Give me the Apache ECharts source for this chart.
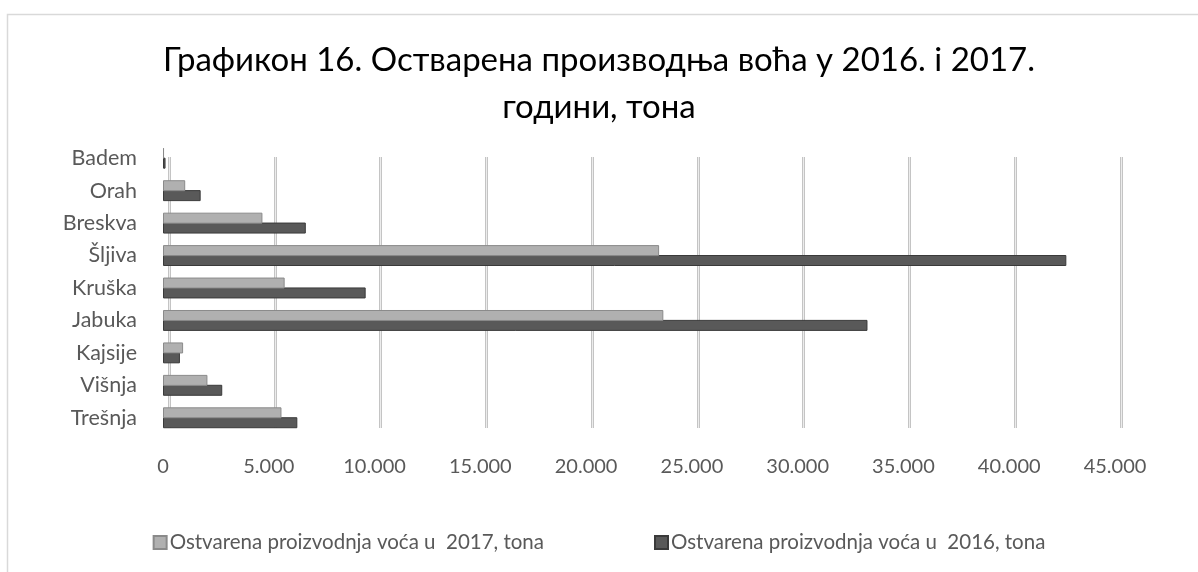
<!DOCTYPE html>
<html>
<head>
<meta charset="utf-8">
<script src="https://cdn.jsdelivr.net/npm/echarts@6/dist/echarts.min.js"></script>
<style>html,body{margin:0;padding:0;background:#fff}#c{width:1198px;height:572px}</style>
</head>
<body>
<div id="c"></div>
<script>
const categories = ['Trešnja','Višnja','Kajsije','Jabuka','Kruška','Šljiva','Breskva','Orah','Badem'];
const values2017 = [5600, 2100, 950, 23650, 5750, 23450, 4700, 1050, 50];
const values2016 = [6350, 2800, 800, 33300, 9580, 42700, 6750, 1780, 120];
const seriesNames = ['Ostvarena proizvodnja voća u  2017, tona','Ostvarena proizvodnja voća u  2016, tona'];
const titleText = 'Графикон 16. Остварена производња воћа у 2016. i 2017.\nгодини, тона';
const xMax = 45000, xStep = 5000;

const FONT = 'Lato, "Open Sans", sans-serif';
const fmt = v => String(v).replace(/\B(?=(\d{3})+(?!\d))/g, '.');

const chart = echarts.init(document.getElementById('c'));
chart.setOption({
  animation: false,
  backgroundColor: '#fff',
  title: {
    text: titleText, left: 'center', top: 32,
    textStyle: {fontFamily: FONT, fontSize: 33, fontWeight: 'normal', color: '#000', lineHeight: 47}
  },
  legend: {
    data: seriesNames, bottom: 14, left: 'center', itemGap: 110,
    itemWidth: 13, itemHeight: 13, icon: 'rect',
    textStyle: {fontFamily: FONT, fontSize: 20.5, color: '#595959', padding: [0, 0, 0, -2]}
  },
  graphic: [{type: 'rect', shape: {x: 7.5, y: 14.5, width: 1250, height: 620}, style: {fill: 'none', stroke: '#d9d9d9', lineWidth: 1.5}, silent: true, z: -10}],
  grid: [
    {left: 163, width: 952, top: 142, height: 292},
    {left: 169, width: 952, top: 157, height: 271},
    {left: 169, width: 952, top: 157, height: 271}
  ],
  xAxis: [
    {gridIndex: 0, type: 'value', min: 0, max: xMax, interval: xStep,
     axisLine: {show: false}, axisTick: {show: false}, splitLine: {show: false},
     axisLabel: {margin: 23, formatter: fmt, fontFamily: FONT, fontSize: 20, color: '#595959'}},
    {gridIndex: 1, type: 'value', min: 0, max: xMax, interval: xStep,
     axisLine: {show: false}, axisTick: {show: false}, axisLabel: {show: false},
     splitLine: {show: true, lineStyle: {color: '#c4c4c4', width: 3}}},
    {gridIndex: 2, type: 'value', min: 0, max: xMax, interval: xStep,
     axisLine: {show: false}, axisTick: {show: false}, axisLabel: {show: false},
     splitLine: {show: true, lineStyle: {color: '#ececec', width: 1}}}
  ],
  yAxis: [
    {gridIndex: 0, type: 'category', data: categories,
     axisLine: {show: false}, axisTick: {show: false},
     axisLabel: {margin: 26, fontFamily: FONT, fontSize: 21.5, color: '#595959'}},
    {gridIndex: 1, type: 'category', data: categories, show: false},
    {gridIndex: 2, type: 'category', data: categories, show: false}
  ],
  series: [
    {name: seriesNames[0], type: 'bar', xAxisIndex: 0, yAxisIndex: 0, data: values2017,
     barWidth: 11, barGap: '-10%', z: 4,
     itemStyle: {color: '#b0b0b0', borderColor: '#8a8a8a', borderWidth: 1}},
    {name: seriesNames[1], type: 'bar', xAxisIndex: 0, yAxisIndex: 0, data: values2016,
     barWidth: 11, barGap: '-10%', z: 3,
     itemStyle: {color: '#595959', borderColor: '#3a3a3a', borderWidth: 1}}
  ]
});
</script>
</body>
</html>
